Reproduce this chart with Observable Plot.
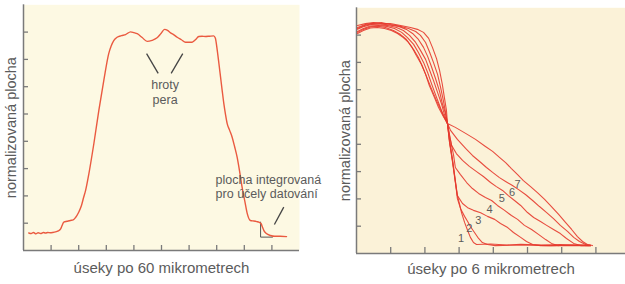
<!DOCTYPE html>
<html><head><meta charset="utf-8">
<script src="https://cdn.jsdelivr.net/npm/d3@7"></script>
<script src="https://cdn.jsdelivr.net/npm/@observablehq/plot@0.6"></script>
<style>
body{margin:0;background:#fff;}
#wrap{position:relative;width:625px;height:284px;overflow:hidden;background:#fff;}
#wrap svg{position:absolute;top:0;}
</style></head><body><div id="wrap"></div>
<script>
// ---- Left panel: profile across a stroke (segments of 60 µm) ----
const leftTitleX = "úseky po 60 mikrometrech";
const leftTitleY = "normalizovaná plocha";
const leftXTicks = [1,2,3,4,5,6,7,8,9];
const leftYTicks = [1,2,3,4,5,6,7,8];
const leftX = [0.19,0.28,0.36,0.45,0.53,0.62,0.72,0.80,0.88,0.97,1.06,1.16,1.26,1.34,1.40,1.46,1.58,1.70,1.80,1.88,2.00,2.10,2.18,2.25,2.37,2.55,2.73,2.91,3.09,3.18,3.27,3.39,3.55,3.70,3.88,4.00,4.12,4.30,4.48,4.66,4.84,4.98,5.11,5.22,5.33,5.45,5.57,5.72,5.87,6.11,6.23,6.35,6.47,6.59,6.74,6.89,6.95,7.02,7.08,7.14,7.20,7.26,7.32,7.38,7.47,7.56,7.65,7.74,7.83,7.92,8.02,8.11,8.22,8.35,8.45,8.53,8.61,8.66,8.71,8.80,8.95,9.10,9.30,9.53];
const leftY = [0.64,0.62,0.66,0.61,0.65,0.62,0.66,0.64,0.66,0.65,0.66,0.68,0.72,0.78,0.92,1.04,1.07,1.10,1.12,1.20,1.40,1.65,1.95,2.20,2.82,3.92,5.13,6.23,7.22,7.50,7.69,7.81,7.87,7.91,8.01,7.98,7.94,7.80,7.66,7.70,7.79,7.95,8.10,8.06,7.97,7.90,7.81,7.72,7.63,7.63,7.72,7.84,7.85,7.84,7.85,7.86,7.78,7.33,6.85,6.35,5.85,5.37,4.98,4.65,4.40,4.15,3.80,3.42,2.90,2.32,1.80,1.34,1.10,1.08,1.06,1.04,0.98,0.85,0.73,0.62,0.55,0.52,0.52,0.51];
const peakText = ["hroty","pera"];
const peakX = [5.13,5.13];
const peakY = [6.05,5.52];
const areaText = ["plocha integrovaná","pro účely datování"];
const areaX = [6.96,6.96];
const areaY = [2.58,2.08];
const pointerX1 = [4.46,5.77,9.43];
const pointerY1 = [7.21,7.21,1.59];
const pointerX2 = [4.88,5.35,9.09];
const pointerY2 = [6.49,6.49,0.95];
const bracketX = [8.59,8.59,9.02];
const bracketY = [1.04,0.49,0.49];

// ---- Right panel: edge profiles, curves 1–7 (segments of 6 µm) ----
const rightTitleX = "úseky po 6 mikrometrech";
const rightTitleY = "normalizovaná plocha";
const rightXTicks = [1,2,3,4,5,6,7];
const rightYTicks = [1,2,3,4,5,6,7,8];
const c1x = [0.03,0.26,0.50,0.73,0.99,1.29,1.58,1.78,1.96,2.11,2.22,2.34,2.43,2.51,2.57,2.63,2.66,2.72,2.81,2.89,2.95,3.01,3.07,3.16,3.25,3.33,3.42,3.51,3.92,4.40,4.80,5.40,5.96,6.40,6.84];
const c1y = [8.35,8.42,8.46,8.42,8.42,8.35,8.28,8.21,8.10,7.88,7.55,7.14,6.70,6.19,5.71,5.24,4.76,4.14,3.41,2.67,2.12,1.83,1.50,1.14,0.84,0.59,0.40,0.33,0.35,0.31,0.34,0.31,0.33,0.30,0.31];
const c2x = [0.03,0.26,0.50,0.73,0.99,1.29,1.52,1.73,1.87,2.02,2.13,2.25,2.37,2.46,2.54,2.60,2.66,2.72,2.81,2.89,2.95,3.04,3.16,3.25,3.33,3.45,3.57,3.68,3.83,4.06,4.80,5.67,6.55,6.84];
const c2y = [8.28,8.39,8.44,8.46,8.39,8.32,8.24,8.13,7.99,7.73,7.40,7.00,6.56,6.08,5.60,5.20,4.76,4.10,3.37,2.64,2.01,1.65,1.36,1.17,0.99,0.77,0.55,0.40,0.33,0.29,0.31,0.29,0.31,0.29];
const c3x = [0.03,0.23,0.47,0.70,0.96,1.23,1.46,1.64,1.81,1.96,2.08,2.19,2.31,2.43,2.51,2.60,2.66,2.72,2.81,2.89,2.95,3.10,3.25,3.42,3.63,3.83,4.04,4.21,4.42,4.59,4.80,4.97,5.15,5.38,5.82,6.26,6.84];
const c3y = [8.24,8.35,8.42,8.41,8.37,8.32,8.21,8.06,7.84,7.55,7.22,6.85,6.41,5.93,5.49,5.13,4.76,4.07,3.33,2.60,2.12,1.83,1.68,1.58,1.49,1.36,1.25,1.10,0.95,0.77,0.59,0.44,0.33,0.29,0.29,0.31,0.29];
const c4x = [0.03,0.23,0.44,0.67,0.91,1.17,1.37,1.55,1.73,1.87,2.02,2.13,2.25,2.37,2.49,2.57,2.66,2.75,2.84,2.89,3.04,3.22,3.39,3.57,3.77,3.95,4.12,4.33,4.53,4.71,4.91,5.12,5.32,5.53,5.70,5.88,6.26,6.84];
const c4y = [8.21,8.32,8.39,8.37,8.35,8.28,8.17,7.99,7.73,7.44,7.11,6.74,6.34,5.90,5.46,5.09,4.76,4.14,3.59,3.15,2.89,2.60,2.38,2.20,2.05,1.94,1.76,1.58,1.39,1.25,1.03,0.88,0.70,0.51,0.37,0.29,0.29,0.29];
const c5x = [0.03,0.20,0.41,0.64,0.88,1.11,1.32,1.49,1.67,1.81,1.96,2.08,2.19,2.31,2.43,2.54,2.66,2.72,2.78,2.92,3.10,3.30,3.51,3.71,3.92,4.09,4.27,4.44,4.62,4.80,5.00,5.18,5.38,5.56,5.76,5.96,6.14,6.35,6.55,6.78];
const c5y = [8.13,8.24,8.33,8.35,8.32,8.24,8.10,7.91,7.66,7.36,7.00,6.63,6.23,5.82,5.42,5.05,4.76,4.32,3.96,3.66,3.41,3.19,3.00,2.82,2.60,2.45,2.31,2.12,1.94,1.76,1.50,1.32,1.17,1.03,0.88,0.73,0.55,0.37,0.29,0.29];
const c6x = [0.03,0.20,0.41,0.64,0.85,1.08,1.29,1.46,1.61,1.75,1.90,2.02,2.13,2.28,2.40,2.54,2.66,2.75,2.95,3.19,3.39,3.60,3.80,3.98,4.18,4.36,4.56,4.74,4.94,5.15,5.35,5.56,5.76,5.96,6.17,6.35,6.52,6.70,6.84];
const c6y = [8.10,8.21,8.30,8.32,8.28,8.17,8.02,7.84,7.58,7.25,6.92,6.56,6.15,5.71,5.35,5.02,4.76,4.51,4.18,3.85,3.59,3.37,3.15,2.97,2.78,2.64,2.49,2.34,2.16,1.94,1.72,1.50,1.28,1.03,0.81,0.59,0.44,0.33,0.29];
const c7x = [0.03,0.20,0.41,0.61,0.82,1.02,1.20,1.37,1.52,1.67,1.81,1.93,2.05,2.19,2.34,2.49,2.66,2.89,3.19,3.48,3.77,3.98,4.18,4.36,4.53,4.71,4.88,5.09,5.29,5.50,5.70,5.91,6.11,6.29,6.46,6.61,6.75,6.90];
const c7y = [8.06,8.17,8.26,8.28,8.24,8.17,8.06,7.91,7.73,7.47,7.18,6.85,6.48,6.04,5.60,5.20,4.76,4.62,4.40,4.18,3.92,3.74,3.52,3.33,3.11,2.89,2.67,2.45,2.23,1.98,1.72,1.43,1.14,0.88,0.62,0.44,0.33,0.29];
const curveNames = ["1","2","3","4","5","6","7"];
const curveLabelX = [3.06,3.30,3.56,3.89,4.25,4.55,4.71];
const curveLabelY = [0.56,0.92,1.21,1.61,2.00,2.25,2.53];

// ---- build tables ----
const zip = (xs, ys, extra = {}) => xs.slice(0, Math.min(xs.length, ys.length)).map((x, i) => ({x, y: ys[i], ...extra}));
const labelRows = (ts, xs, ys) => ts.map((t, i) => ({t, x: xs[i], y: ys[i]}));
const leftLine = zip(leftX, leftY);
const peakNotes = labelRows(peakText, peakX, peakY);
const areaNotes = labelRows(areaText, areaX, areaY);
const pointers = pointerX1.map((x1, i) => ({x1, y1: pointerY1[i], x2: pointerX2[i], y2: pointerY2[i]}));
const bracket = zip(bracketX, bracketY);
const curveX = [c1x,c2x,c3x,c4x,c5x,c6x,c7x];
const curveY = [c1y,c2y,c3y,c4y,c5y,c6y,c7y];
const rightLines = curveNames.flatMap((n, k) => zip(curveX[k], curveY[k], {c: n}));
const curveLabels = labelRows(curveNames, curveLabelX, curveLabelY);

const FONT = "'Liberation Sans', Arial, Helvetica, sans-serif";
const GREY_TEXT = "#5b5b5b";
const AXIS = "#7a7a7a";
const creamL = "#fdf9e3";
const creamR = "#fbf2d8";
const TICK = 5;

// Left chart geometry
const LW = 340, LH = 284, LmL = 23, LmR = 41, LmT = 4.3, LmB = 34;
const LfW = LW - LmL - LmR, LfH = LH - LmT - LmB;
const left = Plot.plot({
  width: LW, height: LH,
  marginLeft: LmL, marginRight: LmR, marginTop: LmT, marginBottom: LmB,
  x: {domain: [0, 10], axis: null},
  y: {domain: [0, 9], axis: null},
  style: {background: "transparent", overflow: "visible", fontFamily: FONT},
  marks: [
    Plot.frame({fill: creamL, stroke: null}),
    Plot.tickX(leftXTicks, {x: d => d, insetTop: LfH - TICK, stroke: AXIS, strokeWidth: 1.3}),
    Plot.tickY(leftYTicks, {y: d => d, insetRight: LfW - TICK, stroke: AXIS, strokeWidth: 1.3}),
    Plot.ruleX([0], {stroke: AXIS, strokeWidth: 1.5}),
    Plot.ruleY([0], {stroke: AXIS, strokeWidth: 1.5}),
    Plot.line(bracket, {x: "x", y: "y", stroke: "#555", strokeWidth: 1}),
    Plot.link(pointers, {x1: "x1", y1: "y1", x2: "x2", y2: "y2", stroke: "#444", strokeWidth: 1.3}),
    Plot.line(leftLine, {x: "x", y: "y", stroke: "#ea5a40", strokeWidth: 1.4, curve: "monotone-x"}),
    Plot.text(peakNotes, {x: "x", y: "y", text: "t", textAnchor: "middle", fill: GREY_TEXT, fontSize: 12.5}),
    Plot.text(areaNotes, {x: "x", y: "y", text: "t", textAnchor: "start", fill: GREY_TEXT, fontSize: 12.5}),
    Plot.text([leftTitleX], {frameAnchor: "bottom", text: d => d, dy: 22.5, fill: GREY_TEXT, fontSize: 15}),
    Plot.text([leftTitleY], {frameAnchor: "left", text: d => d, rotate: -90, textAnchor: "middle", dx: -12, fill: GREY_TEXT, fontSize: 14.5})
  ]
});

// Right chart geometry
const RX = 310, RW = 315, RH = 284, RmL = 46, RmR = 0, RmT = 7.3, RmB = 31;
const RfW = RW - RmL - RmR, RfH = RH - RmT - RmB;
const right = Plot.plot({
  width: RW, height: RH,
  marginLeft: RmL, marginRight: RmR, marginTop: RmT, marginBottom: RmB,
  x: {domain: [0, 7.865], axis: null},
  y: {domain: [0, 9], axis: null},
  style: {background: "transparent", overflow: "visible", fontFamily: FONT},
  marks: [
    Plot.frame({fill: creamR, stroke: null}),
    Plot.tickX(rightXTicks, {x: d => d, insetTop: RfH - TICK - 1, stroke: AXIS, strokeWidth: 1.3}),
    Plot.tickY(rightYTicks, {y: d => d, insetRight: RfW - TICK, stroke: AXIS, strokeWidth: 1.3}),
    Plot.ruleX([0], {stroke: AXIS, strokeWidth: 1.5}),
    Plot.ruleY([0], {stroke: AXIS, strokeWidth: 1.5}),
    Plot.line(rightLines, {x: "x", y: "y", z: "c", stroke: "#e63a2e", strokeWidth: 1.1, strokeOpacity: 0.9}),
    Plot.text(curveLabels, {x: "x", y: "y", text: "t", fill: GREY_TEXT, fontSize: 11}),
    Plot.text([rightTitleX], {frameAnchor: "bottom", text: d => d, dy: 20.5, fill: GREY_TEXT, fontSize: 15}),
    Plot.text([rightTitleY], {frameAnchor: "left", text: d => d, rotate: -90, textAnchor: "middle", dx: -11, fill: GREY_TEXT, fontSize: 14.5})
  ]
});

const wrap = document.getElementById("wrap");
right.style.left = RX + "px";
left.style.left = "0px";
wrap.appendChild(right);
wrap.appendChild(left);
</script></body></html>
